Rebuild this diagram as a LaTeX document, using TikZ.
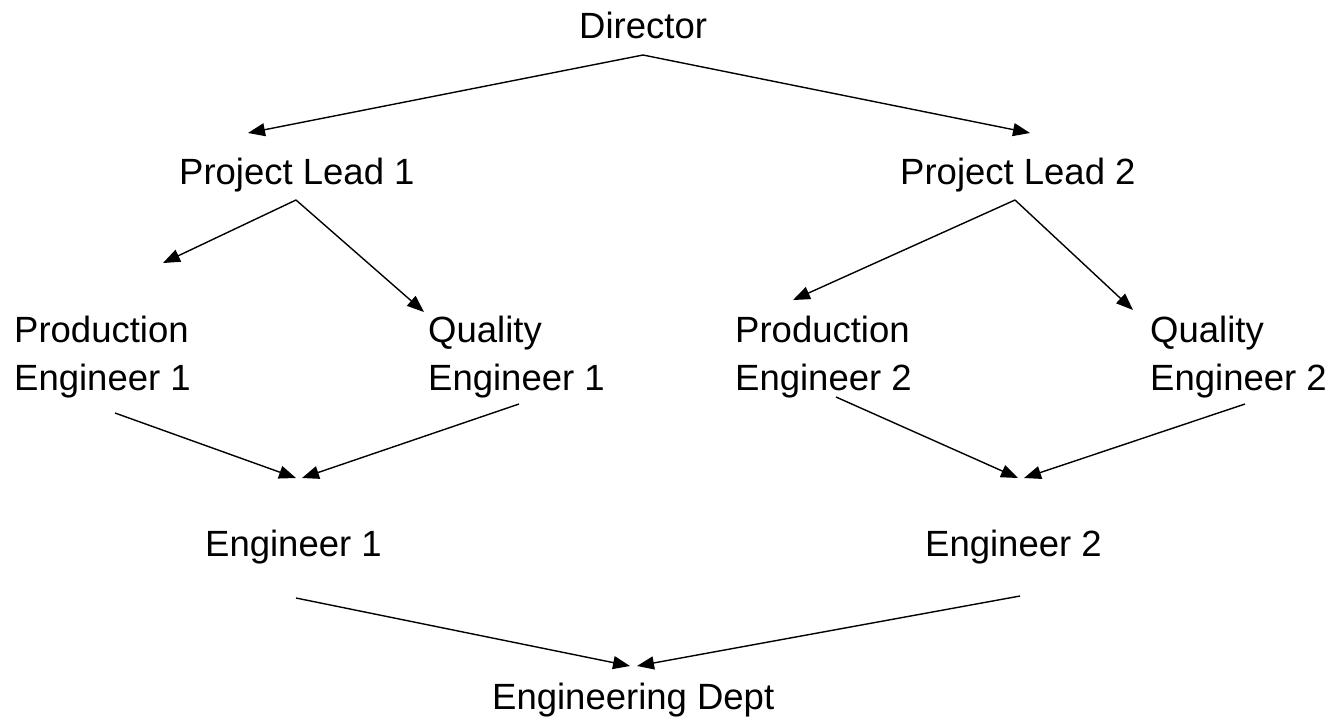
\documentclass[tikz,border=0pt]{standalone}
\usepackage{fontspec}
\setmainfont{Liberation Sans}
\usetikzlibrary{arrows.meta}
\begin{document}
\begin{tikzpicture}[x=1pt,y=-1pt,
  lbl/.style={inner sep=0pt,anchor=base west,font=\fontsize{36.5}{48}\selectfont,align=left},
  arr/.style={-{Triangle[length=17pt,width=13pt]},line width=1.4pt}]
\useasboundingbox (0,0) rectangle (1336,724);
\node[lbl] (dir) at (579,38) {Director};
\node[lbl] (pl1) at (179,184) {Project Lead 1};
\node[lbl] (pl2) at (900,184) {Project Lead 2};
\node[lbl,anchor=north west] (pe1) at (14,316) {Production\\Engineer 1};
\node[lbl,anchor=north west] (qe1) at (428,316) {Quality\\Engineer 1};
\node[lbl,anchor=north west] (pe2) at (735,316) {Production\\Engineer 2};
\node[lbl,anchor=north west] (qe2) at (1150,316) {Quality\\Engineer 2};
\node[lbl] (e1) at (205,556) {Engineer 1};
\node[lbl] (e2) at (925,556) {Engineer 2};
\node[lbl] (ed) at (492,709) {Engineering Dept};
% connector end points
\coordinate (dirS) at (643,55);
\coordinate (pl1S) at (296,200);
\coordinate (pl2S) at (1015,200);
\coordinate (pe1S) at (115,413);
\coordinate (qe1S) at (519,404);
\coordinate (pe2S) at (836,397);
\coordinate (qe2S) at (1245,404);
\coordinate (e1S) at (296,598);
\coordinate (e2S) at (1020,596);
\coordinate (pl1T) at (248,133);
\coordinate (pl2T) at (1030,133);
\coordinate (freeT) at (163,263);
\coordinate (qe1T) at (424,312);
\coordinate (pe2T) at (793,300);
\coordinate (qe2T) at (1133,310);
\coordinate (e1Ta) at (296,478);
\coordinate (e1Tb) at (302,478);
\coordinate (e2Ta) at (1018,478);
\coordinate (e2Tb) at (1024,478);
\coordinate (edTa) at (630,666);
\coordinate (edTb) at (637,666);
\draw[arr] (dirS) -- (pl1T);
\draw[arr] (dirS) -- (pl2T);
\draw[arr] (pl1S) -- (freeT);
\draw[arr] (pl1S) -- (qe1T);
\draw[arr] (pl2S) -- (pe2T);
\draw[arr] (pl2S) -- (qe2T);
\draw[arr] (pe1S) -- (e1Ta);
\draw[arr] (qe1S) -- (e1Tb);
\draw[arr] (pe2S) -- (e2Ta);
\draw[arr] (qe2S) -- (e2Tb);
\draw[arr] (e1S) -- (edTa);
\draw[arr] (e2S) -- (edTb);
\end{tikzpicture}
\end{document}
